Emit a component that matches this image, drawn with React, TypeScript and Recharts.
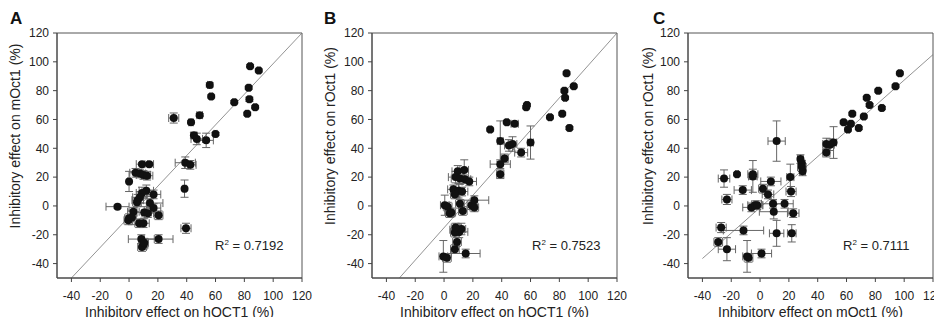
import { ErrorBar, ReferenceArea, ReferenceLine, Scatter, ScatterChart, XAxis, YAxis } from 'recharts'

const axisTicks = [-40, -20, 0, 20, 40, 60, 80, 100, 120]

// A: hOCT1 vs mOct1
const aX = [84, 90, 56, 57, 83, 83.5, 87.5, 82, 73, 31, 49, 43, 60, 45, 47, 53.5, 39, 42.5, 38.5, 39.5, 20.5, 8.5, 9, 14, 4.5, 0, 7.5, 10, 12.5, -8, 17, 12, 9, 6, 7.5, 14.5, 5.5, 3, 10.5, 13, 17, 20.5, 0, -0.5, 2, 7, 10, 10, 9, 10.5]
const aY = [97, 94, 84, 76, 82, 74, 68.5, 64, 72, 61, 63, 58, 50, 49, 46.5, 45.5, 30, 28.5, 12, -15.5, -23, -23, 29, 29, 23, 17, 22.5, 21.5, 21, -0.5, 8, 10.5, 9, 4, 6, 2, 2.5, -4, -4.5, -5, -1.5, -6.5, -8.5, -10, -8, -12, -12, -27, -28.5, -25.5]
const aXErr = [1, 1, 1.5, 1, 1, 1, 1, 1, 1, 3.5, 2, 1.5, 1, 2, 4, 5, 7, 4, 1, 3.5, 10, 9, 4, 3, 4, 1, 4, 5, 4, 8, 5, 5, 4, 4, 5, 9, 3, 4, 5, 4, 5, 3, 3, 3, 3, 3, 4, 3, 3, 3]
const aYErr = [1, 1, 1.5, 1, 1, 1.5, 1, 1, 1, 3.5, 1, 1, 1, 2, 4, 5, 4, 3, 6, 3.5, 3, 3, 1, 1, 3, 7, 3, 3, 3, 1, 3, 4, 4, 4, 4, 3, 3, 3, 4, 3, 3, 3, 3, 3, 5, 3, 3, 3, 3, 3]

// B: hOCT1 vs rOct1
const bX = [85, 90, 83.5, 84, 82, 87, 73.5, 57, 57.5, 32, 43.5, 49, 39, 45, 47.5, 60, 53.5, 42, 39, 39, 9.5, 14, 8, 11, 14.5, 17.5, 6.5, 10, 12.5, 7.5, 0.5, 2.5, 5, 11, 13, 19, 21, 21, 9, 10.5, 7.5, 12, 9, 7.5, -0.5, 2, 15, 8, 4]
const bY = [92, 83, 80, 75, 64, 54, 61.5, 68.5, 70, 53, 58, 57, 45, 42, 43, 44, 37, 33, 29, 22, 24, 25, 20, 19, 18.5, 17, 11.5, 10.5, 10, 8, 0.5, -0.5, -4.5, 1.5, -3.5, 0.5, 4, -1, -16.5, -18, -18.5, -16, -25, -30, -35, -36, -33, -15, -5]
const bXErr = [1, 1, 1, 1, 1, 1, 1, 1, 1, 1, 1, 2.5, 2, 3, 3, 2, 4.5, 2.5, 7, 2.5, 4, 3, 5, 6, 4, 5, 4, 4, 4, 3, 3, 3, 3, 3, 3, 3, 10, 3, 5, 6, 3, 3, 3, 3, 3, 3, 10, 3, 3]
const bYErr = [1, 1, 1, 1, 1, 1, 1, 1, 1, 1, 1, 1.5, 14, 4, 5, 11.5, 3, 3, 3, 3, 4, 7, 4, 4, 3, 3, 3, 5, 3, 3, 7, 3, 3, 3, 3, 3, 3, 3, 4, 4, 3, 4, 3, 3, 11, 3, 3, 3, 3]

// C: mOct1 vs rOct1
const cX = [97, 94, 82, 74, 76, 84.5, 64, 72, 58, 63, 61, 68.5, 51, 46, 48.5, 46, 28, 29, 29.5, 29, 11.5, 21, 21.5, 2, 7.5, 5.5, -5, -5, -16, -25, -12, -23, -6, -3.5, -2, 9, 17, 9.5, 23, -27, -11.5, 11.5, 22, -29, -23, -9, -8, 1]
const cY = [92, 83, 80, 75, 70, 68, 64, 62, 58, 57, 53, 54, 44, 43, 42.5, 37, 32.5, 29.5, 24, 27, 45, 20, 10, 12, 17, 8, 20.5, 22, 22, 19, 11, 4.5, -1, 0.5, 0.5, 1.5, 1.5, -4, -5, -15, -17, -19, -19, -25, -30, -35, -36, -33]
const cXErr = [1, 1, 1, 1, 1, 1, 1, 1, 1, 1, 1, 1, 2, 2.5, 3, 2.5, 2, 2, 2, 3, 6, 2.5, 3.5, 3, 7, 4, 3, 3.5, 1, 4, 6, 3.5, 6, 5, 4, 8, 6, 10, 4, 3.5, 14, 5, 3, 3, 6, 3, 3, 7]
const cYErr = [1, 1, 1, 1, 1, 1, 1, 1, 1, 1, 1, 1, 11, 4, 4, 3, 3, 2, 3, 3, 14, 9, 3.5, 3, 3, 3, 11, 3.5, 1, 6, 3, 3.5, 3, 3, 3, 3, 3, 5, 3, 3.5, 3, 9, 6, 3, 8, 11, 3, 3]

// regression line end points
const fitA = [[-40, -50], [120, 120]]
const fitB = [[-31, -50], [120, 120]]
const fitC = [[-40, -36.5], [120, 105]]

const rows = (xs: number[], ys: number[], exs: number[], eys: number[]) =>
  xs.map((x, i) => ({ x, y: ys[i], ex: exs[i], ey: eys[i] }))

const font = '"Liberation Sans", Arial, sans-serif'
const tickStyle = { fontSize: 12, fill: '#222', fontFamily: font }

const Dot = (p: any) => <circle cx={p.cx} cy={p.cy} r={4} fill="#111" />

type PanelProps = {
  left: number
  yAxisWidth: number
  rightMargin: number
  fit: number[][]
  data: { x: number; y: number; ex: number; ey: number }[]
}

function Panel(p: PanelProps) {
  return (
    <div style={{ position: 'absolute', left: p.left, top: 0, width: 314, height: 325 }}>
      <ScatterChart width={314} height={325} margin={{ top: 33, right: p.rightMargin, bottom: 0, left: 0 }}>
        <XAxis
          type="number"
          dataKey="x"
          domain={[-50, 120]}
          ticks={axisTicks}
          allowDataOverflow
          height={47}
          tick={tickStyle}
          tickSize={4}
          tickMargin={9}
          stroke="#444"
        />
        <YAxis
          type="number"
          dataKey="y"
          domain={[-50, 120]}
          ticks={axisTicks}
          allowDataOverflow
          width={p.yAxisWidth}
          tick={tickStyle}
          tickSize={4}
          tickMargin={4}
          stroke="#444"
        />
        <ReferenceArea x1={-50} x2={120} y1={-50} y2={120} fill="none" stroke="#555" strokeWidth={1} />
        <ReferenceLine
          segment={[{ x: p.fit[0][0], y: p.fit[0][1] }, { x: p.fit[1][0], y: p.fit[1][1] }]}
          stroke="#777"
          strokeWidth={0.8}
        />
        <Scatter data={p.data} shape={Dot} isAnimationActive={false}>
          <ErrorBar dataKey="ex" direction="x" width={4} stroke="#666" strokeWidth={1} />
          <ErrorBar dataKey="ey" direction="y" width={4} stroke="#666" strokeWidth={1} />
        </Scatter>
      </ScatterChart>
    </div>
  )
}

// titles, panel letters and R² notes
const letters = ['A', 'B', 'C']
const letterX = [10, 324, 653]
const xTitles = ['Inhibitory effect on hOCT1 (%)', 'Inhibitory effect on hOCT1 (%)', 'Inhibitory effect on mOct1 (%)']
const xTitleX = [179.5, 494.5, 810.5]
const yTitles = ['Inhibitory effect on mOct1 (%)', 'Inhibitory effect on rOct1 (%)', 'Inhibitory effect on rOct1 (%)']
const yTitleX = [15, 330, 648]
const r2Values = ['0.7192', '0.7523', '0.7111']
const r2X = [215, 532, 843]

function Overlay() {
  return (
    <svg width={942} height={325} style={{ position: 'absolute', left: 0, top: 0, pointerEvents: 'none' }}
      fontFamily={font} fill="#222">
      {letters.map((l, i) => (
        <text key={l} x={letterX[i]} y={24} fontSize={17} fontWeight="bold" fill="#111">{l}</text>
      ))}
      {xTitles.map((t, i) => (
        <text key={'x' + i} x={xTitleX[i]} y={317} fontSize={14} textAnchor="middle">{t}</text>
      ))}
      {yTitles.map((t, i) => (
        <text key={'y' + i} x={yTitleX[i]} y={136} fontSize={14} textAnchor="middle" dominantBaseline="central"
          transform={`rotate(-90 ${yTitleX[i]} 136)`}>{t}</text>
      ))}
      {r2Values.map((v, i) => (
        <text key={'r' + i} x={r2X[i]} y={250} fontSize={13}>
          R<tspan dy={-5} fontSize={8}>2</tspan><tspan dy={5}> = {v}</tspan>
        </text>
      ))}
    </svg>
  )
}

export default function App() {
  return (
    <div style={{ position: 'relative', width: 942, height: 325, margin: -8, background: '#fff', overflow: 'hidden' }}>
      <Panel left={0} yAxisWidth={57} rightMargin={12} fit={fitA} data={rows(aX, aY, aXErr, aYErr)} />
      <Panel left={314} yAxisWidth={58} rightMargin={11} fit={fitB} data={rows(bX, bY, bXErr, bYErr)} />
      <Panel left={628} yAxisWidth={60} rightMargin={9} fit={fitC} data={rows(cX, cY, cXErr, cYErr)} />
      <Overlay />
    </div>
  )
}
